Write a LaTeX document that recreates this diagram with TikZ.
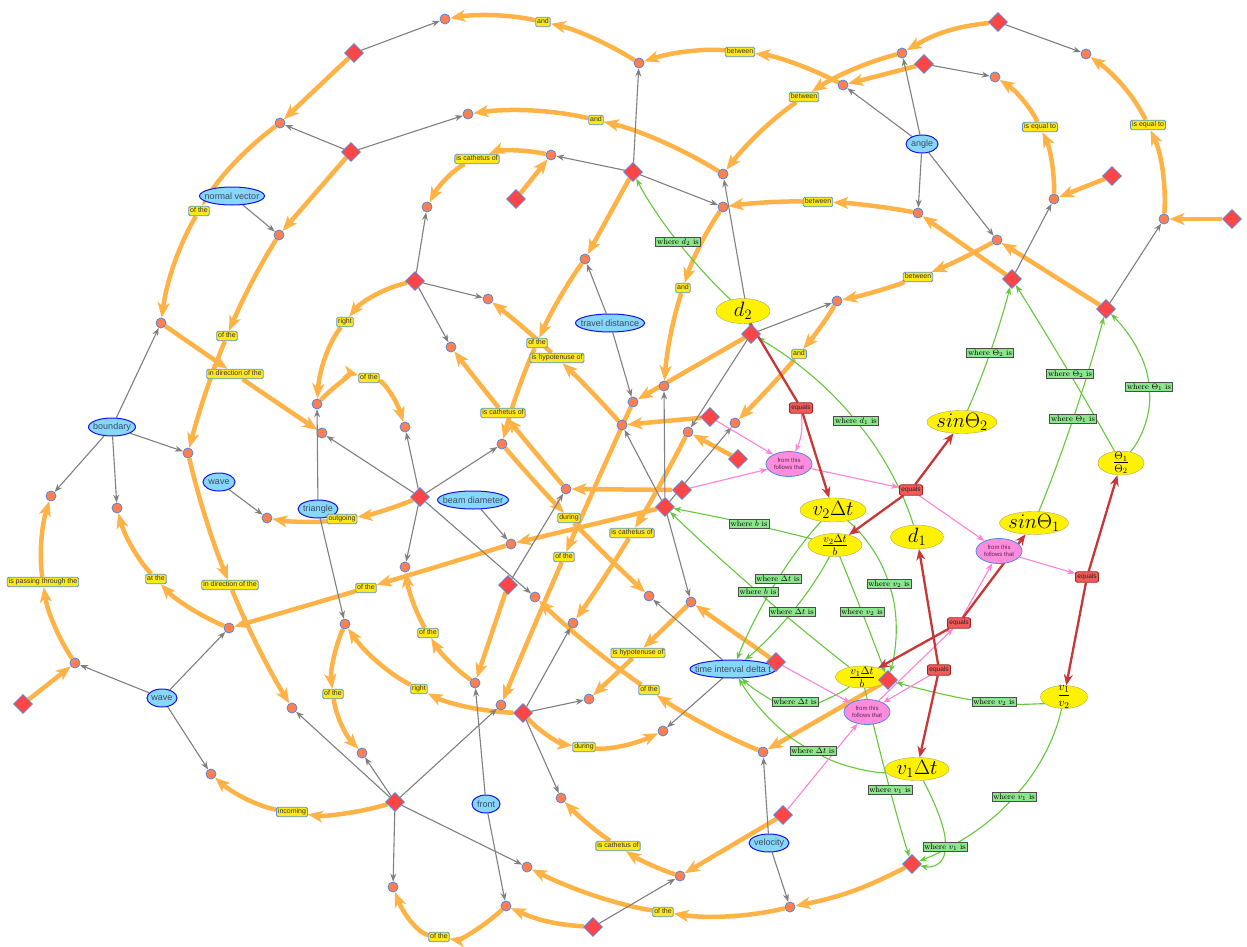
\documentclass[tikz,border=0pt]{standalone}
\usepackage{fontspec}
\newfontfamily\lsans{Liberation Sans}
\usetikzlibrary{arrows.meta,shapes.geometric,backgrounds,calc}
\definecolor{oline}{RGB}{255,179,71}
\definecolor{dotfill}{RGB}{255,127,80}
\definecolor{nodeblue}{RGB}{80,135,225}
\definecolor{diafill}{RGB}{255,70,70}
\definecolor{conceptfill}{RGB}{135,215,250}
\definecolor{conceptdraw}{RGB}{20,20,230}
\definecolor{concepttext}{RGB}{60,75,95}
\definecolor{labfill}{RGB}{255,232,25}
\definecolor{labdraw}{RGB}{90,150,215}
\definecolor{greenfill}{RGB}{140,230,140}
\definecolor{greenline}{RGB}{102,200,60}
\definecolor{pinkline}{RGB}{255,130,220}
\definecolor{pinkfill}{RGB}{255,140,220}
\definecolor{pinktext}{RGB}{90,40,90}
\definecolor{redline}{RGB}{200,55,55}
\definecolor{eqfill}{RGB}{240,90,90}
\definecolor{eqdraw}{RGB}{160,30,30}
\definecolor{grayline}{RGB}{128,128,128}
\definecolor{mathdraw}{RGB}{170,170,90}
\tikzset{
 dot/.style={circle, fill=dotfill, draw=nodeblue, line width=0.8pt, minimum size=10pt, inner sep=0pt},
 dia/.style={diamond, fill=diafill, draw=nodeblue, line width=0.8pt, minimum width=19pt, minimum height=19pt, inner sep=0pt},
 concept/.style={ellipse, fill=conceptfill, draw=conceptdraw, line width=1pt, text=concepttext, font=\lsans\fontsize{9}{9}\selectfont, inner xsep=-5pt, inner ysep=-1pt, minimum height=18pt},
 lab/.style={rectangle, rounded corners=1.5pt, fill=labfill, draw=labdraw, line width=0.8pt, text=black!80, font=\lsans\fontsize{7}{7}\selectfont, inner xsep=1.5pt, inner ysep=1.6pt, text height=5pt, text depth=1.4pt},
 glab/.style={rectangle, fill=greenfill, draw=black!70, line width=0.6pt, font=\fontsize{8}{8}\selectfont, inner xsep=1.5pt, inner ysep=1pt, text height=5.6pt, text depth=1.6pt},
 mnode/.style={ellipse, fill=yellow, draw=mathdraw, line width=0.4pt, inner xsep=-3pt, inner ysep=-5pt, font=\fontsize{20}{20}\selectfont},
 pnode/.style={ellipse, fill=pinkfill, draw=nodeblue, line width=0.8pt, inner sep=0pt, minimum width=46pt, minimum height=25pt, align=center, text=pinktext, font=\lsans\fontsize{6}{6.5}\selectfont},
 eqbox/.style={rectangle, rounded corners=2pt, fill=eqfill, draw=eqdraw, line width=0.8pt, font=\lsans\fontsize{6.5}{6.5}\selectfont, text=black!85, inner xsep=2pt, inner ysep=2pt, text height=5pt, text depth=1.4pt},
 oarr/.style={draw=oline, line width=4.5pt, -{Stealth[length=15pt,width=12pt,inset=4pt]}},
 garr/.style={draw=grayline, line width=1.1pt, -{Stealth[length=8pt,width=6pt]}},
 grarr/.style={draw=greenline, line width=1.1pt, -{Stealth[length=8pt,width=6pt]}},
 grseg/.style={draw=greenline, line width=1.1pt},
 parr/.style={draw=pinkline, line width=1.1pt, -{Stealth[length=8pt,width=6pt]}},
 rarr/.style={draw=redline, line width=2.3pt, -{Stealth[length=11pt,width=9pt]}},
 rseg/.style={draw=redline, line width=2.3pt},
}
\begin{document}
\begin{tikzpicture}[x=1pt,y=-1pt]
\useasboundingbox (0,0) rectangle (1247,947);
% concepts
\node[concept, minimum width=65pt] (cnormal) at (232,196) {normal vector};
\node[concept, minimum width=32pt] (cangle) at (922,144) {angle};
\node[concept, minimum width=69pt] (ctravel) at (610,323) {travel distance};
\node[concept, minimum width=47pt] (cboundary) at (112,427) {boundary};
\node[concept, minimum width=32pt] (cwavea) at (219,482) {wave};
\node[concept, minimum width=40pt] (ctriangle) at (318,509) {triangle};
\node[concept, minimum width=71pt] (cbeam) at (473,500) {beam diameter};
\node[concept, minimum width=86pt, inner xsep=-8pt] (ctime) at (733,669) {time interval delta t};
\node[concept, minimum width=30pt] (cwaveb) at (162,698) {wave};
\node[concept, minimum width=28pt] (cfront) at (486,804) {front};
\node[concept, minimum width=40pt] (cvelocity) at (769,843) {velocity};
% math nodes
\node[mnode, minimum width=54pt, minimum height=25pt] (md2) at (743,311) {$d_2$};
\node[mnode, minimum width=70pt, minimum height=23pt] (ms2) at (962,422) {$sin\Theta_2$};
\node[mnode, minimum width=46pt, minimum height=24pt, font=\fontsize{16}{16}\selectfont] (mth) at (1121,463) {$\frac{\Theta_1}{\Theta_2}$};
\node[mnode, minimum width=66pt, minimum height=24pt] (mv2dt) at (833,510) {$v_2\Delta t$};
\node[mnode, minimum width=54pt, minimum height=23pt, font=\fontsize{16}{16}\selectfont] (mv2dtb) at (835,545) {$\frac{v_2\Delta t}{b}$};
\node[mnode, minimum width=53pt, minimum height=24pt] (md1) at (917,537) {$d_1$};
\node[mnode, minimum width=69pt, minimum height=23pt] (ms1) at (1034,523) {$sin\Theta_1$};
\node[mnode, minimum width=53pt, minimum height=22pt, font=\fontsize{16}{16}\selectfont] (mv1dtb) at (862,677) {$\frac{v_1\Delta t}{b}$};
\node[mnode, minimum width=47pt, minimum height=23pt, font=\fontsize{13}{13}\selectfont] (mv1v2) at (1064,697) {$\displaystyle\frac{v_1}{v_2}$};
\node[mnode, minimum width=64pt, minimum height=23pt] (mv1dt) at (917,769) {$v_1\Delta t$};
% pink
\node[pnode] (p1) at (789,464) {from this\\follows that};
\node[pnode] (p2) at (999,551) {from this\\follows that};
\node[pnode] (p3) at (867,712) {from this\\follows that};
% dots
\foreach \n/\x/\y in {o01/445/19,o02/639/63,o03/902/53,o04/1086/54,o05/843/85,o06/995/77,o07/280/123,o08/468/114,o09/551/155,o10/723/174,o11/723/207,o12/427/207,o13/279/235,o14/918/213,o15/1054/199,o16/1164/219,o17/997/240,o18/585/259,o19/488/299,o20/837/301,o21/161/323,o22/451/347,o23/317/404,o24/322/433,o25/405/427,o26/664/386,o27/633/402,o28/622/425,o29/688/432,o30/735/423,o31/502/444,o32/188/453,o33/566/489,o34/51/496,o35/117/508,o36/267/518,o37/511/544,o38/405/567,o39/535/597,o40/649/596,o41/691/602,o42/573/623,o43/345/624,o44/229/628,o45/75/663,o46/475/683,o47/501/705,o48/589/699,o49/663/731,o50/763/752,o51/292/708,o52/362/753,o53/211/774,o54/561/798,o55/393/887,o56/527/867,o57/680/876,o58/506/906,o59/790/907}
  \node[dot] (\n) at (\x,\y) {};
% diamonds
\foreach \n/\x/\y in {d01/354/53,d02/351/152,d03/516/199,d04/633/172,d05/998/22,d06/924/64,d07/1112/176,d08/1232/219,d09/1012/279,d10/1106/309,d11/415/281,d12/751/334,d13/710/417,d14/738/459,d15/682/490,d16/665/507,d17/420/497,d18/508/585,d19/776/662,d20/888/680,d21/523/713,d22/23/704,d23/395/802,d24/783/815,d25/912/864,d26/593/927}
  \node[dia] (\n) at (\x,\y) {};
% yellow labels
\node[lab] (y01) at (543,22) {and};
\node[lab] (y02) at (740,52) {between};
\node[lab] (y03) at (804,97) {between};
\node[lab] (y04) at (596,120) {and};
\node[lab] (y05) at (477,159) {is cathetus of};
\node[lab] (y06) at (818,202) {between};
\node[lab] (y07) at (1040,127) {is equal to};
\node[lab] (y08) at (1148,125) {is equal to};
\node[lab] (y09) at (199,211) {of the};
\node[lab] (y10) at (227,336) {of the};
\node[lab] (y11) at (683,288) {and};
\node[lab] (y12) at (918,277) {between};
\node[lab] (y13) at (345,322) {right};
\node[lab] (y14) at (537,343) {of the};
\node[lab] (y15) at (557,358) {is hypotenuse of};
\node[lab] (y16) at (799,354) {and};
\node[lab] (y17) at (235,374) {in direction of the};
\node[lab] (y18) at (369,378) {of the};
\node[lab] (y19) at (503,413) {is cathetus of};
\node[lab] (y20) at (342,519) {outgoing};
\node[lab] (y21) at (569,518) {during};
\node[lab] (y22) at (632,533) {is cathetus of};
\node[lab] (y23) at (564,557) {of the};
\node[lab] (y24) at (43,582) {is passing through the};
\node[lab] (y25) at (156,579) {at the};
\node[lab] (y26) at (230,585) {in direction of the};
\node[lab] (y27) at (366,588) {of the};
\node[lab] (y28) at (428,633) {of the};
\node[lab] (y29) at (638,653) {is hypotenuse of};
\node[lab] (y30) at (333,694) {of the};
\node[lab] (y31) at (419,689) {right};
\node[lab] (y32) at (649,690) {of the};
\node[lab] (y33) at (584,747) {during};
\node[lab] (y34) at (292,812) {incoming};
\node[lab] (y35) at (618,846) {is cathetus of};
\node[lab] (y36) at (663,912) {of the};
\node[lab] (y37) at (439,937) {of the};
% green labels
\node[glab] (g01) at (678,242) {where $d_2$ is};
\node[glab] (g02) at (856,421) {where $d_1$ is};
\node[glab] (g03) at (990,353) {where $\Theta_2$ is};
\node[glab] (g04) at (1070,374) {where $\Theta_2$ is};
\node[glab] (g05) at (1073,419) {where $\Theta_1$ is};
\node[glab] (g06) at (1149,387) {where $\Theta_1$ is};
\node[glab] (g07) at (749,524) {where $b$ is};
\node[glab] (g08) at (778,579) {where $\Delta t$ is};
\node[glab] (g09) at (758,592) {where $b$ is};
\node[glab] (g10) at (792,612) {where $\Delta t$ is};
\node[glab] (g11) at (889,584) {where $v_2$ is};
\node[glab] (g12) at (862,612) {where $v_2$ is};
\node[glab] (g13) at (795,702) {where $\Delta t$ is};
\node[glab] (g14) at (813,751) {where $\Delta t$ is};
\node[glab] (g15) at (994,702) {where $v_2$ is};
\node[glab] (g16) at (1014,797) {where $v_1$ is};
\node[glab] (g17) at (945,847) {where $v_1$ is};
\node[glab] (g18) at (890,790) {where $v_1$ is};
% equals
\node[eqbox] (e1) at (801,408) {equals};
\node[eqbox] (e2) at (911,490) {equals};
\node[eqbox] (e3) at (1087,577) {equals};
\node[eqbox] (e4) at (959,623) {equals};
\node[eqbox] (e5) at (939,670) {equals};

\begin{scope}[on background layer]
\fill[white] (0,0) rectangle (1247,947);
% orange, no label
\foreach \a/\b in {d01/o07,d02/o13,d03/o09,d04/o18,d06/o05,d07/o15,d08/o16,d09/o14,d10/o17,d12/o27,d13/o28,d14/o29,d15/o33,d16/o37,d18/o46,d19/o41,d20/o50,d22/o45,d24/o57}
  \draw[oarr] (\a) -- (\b);
\draw[oarr] (d05) to[bend right=12] (o03);
\draw[oarr] (d26) to[bend left=10] (o58);
\draw[oarr] (d25) to[bend left=8] (o59);
% orange, labelled (smooth through label)
\foreach \a/\b/\c in {o02/y01/o01,o05/y02/o02,o03/y03/o10,o10/y04/o08,o09/y05/o12,o14/y06/o11,o15/y07/o06,o16/y08/o04,o07/y09/o21,o13/y10/o32,o11/y11/o26,o17/y12/o20,d11/y13/o23,o18/y14/o31,o28/y15/o19,o20/y16/o30,o21/y17/o24,o23/y18/o25,o33/y19/o22,d17/y20/o36,o31/y21/o40,o29/y22/o42,o27/y23/o47,o45/y24/o34,o44/y25/o35,o32/y26/o51,o37/y27/o44,o46/y28/o38,o41/y29/o48,o43/y30/o52,d21/y31/o43,o50/y32/o39,d21/y33/o49,d23/y34/o53,o57/y35/o54,o59/y36/o56,o58/y37/o55}
  {\draw[oarr] (\a) .. controls ($0.5*(\a)+0.6667*(\b)-0.1667*(\c)$) and ($(\b)+0.1667*(\a)-0.1667*(\c)$) .. (\b);
   \draw[oarr] (\b) .. controls ($(\b)-0.1667*(\a)+0.1667*(\c)$) and ($0.5*(\c)+0.6667*(\b)-0.1667*(\a)$) .. (\c);}
% gray
\foreach \a/\b in {d01/o01,d02/o07,d02/o08,d04/o02,d04/o09,d04/o11,d12/o10,d12/o20,d12/o29,cnormal/o13,cangle/o03,cangle/o05,cangle/o14,cangle/o17,d06/o06,d05/o04,d09/o15,d10/o16,d11/o12,d11/o19,d11/o22,ctravel/o18,ctravel/o27,cboundary/o21,cboundary/o32,cboundary/o34,cboundary/o35,cwavea/o36,ctriangle/o23,ctriangle/o43,d17/o24,d17/o25,d17/o31,d17/o38,d17/o39,cbeam/o37,d18/o33,d16/o28,d16/o26,d16/o30,d16/o41,ctime/o40,ctime/o49,d21/o42,d21/o48,d21/o54,d23/o47,d23/o51,d23/o52,d23/o55,d23/o56,cwaveb/o45,cwaveb/o44,cwaveb/o53,cfront/o46,cfront/o58,cvelocity/o50,cvelocity/o59,d26/o57}
  \draw[garr] (\a) -- (\b);
% green (smooth through label)
\foreach \a/\b/\c in {md2/g01/d04,md1/g02/d12,ms2/g03/d09,mth/g04/d09,ms1/g05/d10,mth/g06/d10,mv2dtb/g07/d16,mv2dt/g08/ctime,mv1dtb/g09/d16,mv2dtb/g10/ctime,mv2dt/g11/d20,mv2dtb/g12/d20,mv1dtb/g13/ctime,mv1dt/g14/ctime,mv1v2/g15/d20,mv1v2/g16/d25,mv1dt/g17/d25,mv1dtb/g18/d25}
  {\draw[grseg] (\a) .. controls ($0.5*(\a)+0.6667*(\b)-0.1667*(\c)$) and ($(\b)+0.1667*(\a)-0.1667*(\c)$) .. (\b);
   \draw[grarr] (\b) .. controls ($(\b)-0.1667*(\a)+0.1667*(\c)$) and ($0.5*(\c)+0.6667*(\b)-0.1667*(\a)$) .. (\c);}
% pink
\foreach \a/\b in {d13/p1,d15/p1,p1/e2,e2/p2,p2/e3,e4/p2,p3/e4,e5/p3,d19/p3,d24/p3}
  \draw[parr] (\a) -- (\b);
\draw[parr] (e1) to[bend left=15] (p1);
% red
\draw[rseg] (md2) -- (e1);
\foreach \a/\b in {e1/mv2dt,e2/ms2,e2/mv2dtb,e3/mth,e3/mv1v2,e4/ms1,e4/mv1dtb,e5/md1,e5/mv1dt}
  \draw[rarr] (\a) -- (\b);
\end{scope}
\end{tikzpicture}
\end{document}
